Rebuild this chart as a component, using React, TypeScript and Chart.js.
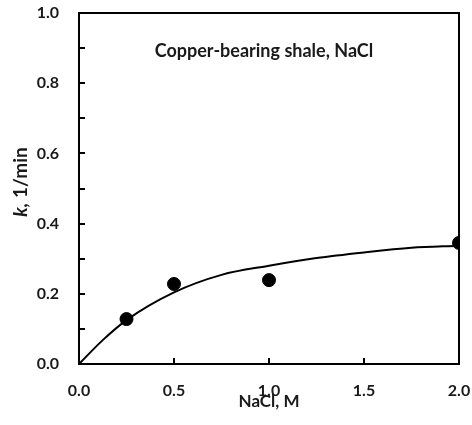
import React, { useEffect, useRef } from "react";
import { Chart, registerables } from "chart.js";

Chart.register(...registerables);

const pointX = [0.25, 0.5, 1.0, 2.0];
const pointK = [0.128, 0.228, 0.239, 0.345];

const curveX = [0, 0.125, 0.25, 0.5, 0.75, 1.0, 1.25, 1.5, 1.75, 2.0];
const curveK = [0, 0.068, 0.125, 0.204, 0.254, 0.28, 0.302, 0.318, 0.331, 0.337];

const xTicks = [0, 0.5, 1.0, 1.5, 2.0];
const yTicks = [0, 0.1, 0.2, 0.3, 0.4, 0.5, 0.6, 0.7, 0.8, 0.9, 1.0];

const chartTitle = "Copper-bearing shale, NaCl";
const xTitle = "NaCl, M";
const yTitleItalic = "k,";
const yTitleRest = " 1/min";

const FONT = "Lato, 'Open Sans', sans-serif";

const framePlugin = {
  id: "frame",
  afterDatasetsDraw(chart: any) {
    const { ctx, chartArea, scales } = chart;
    const { left, right, top, bottom } = chartArea;
    ctx.save();
    ctx.strokeStyle = "#000";
    ctx.lineWidth = 2;
    ctx.strokeRect(left, top, right - left, bottom - top);
    ctx.beginPath();
    yTicks.forEach((v) => {
      const y = Math.round(scales.y.getPixelForValue(v));
      ctx.moveTo(left, y);
      ctx.lineTo(left + 6, y);
    });
    xTicks.forEach((v) => {
      const x = Math.round(scales.x.getPixelForValue(v));
      ctx.moveTo(x, bottom);
      ctx.lineTo(x, bottom - 6);
    });
    ctx.stroke();

    // chart title inside plot
    ctx.fillStyle = "#1a1a1a";
    ctx.font = `bold 18px ${FONT}`;
    ctx.textAlign = "center";
    ctx.textBaseline = "alphabetic";
    ctx.fillText(chartTitle, 264, 57);

    // y axis title (rotated, k italic)
    ctx.translate(21, 182);
    ctx.rotate(-Math.PI / 2);
    const f1 = `italic bold 19px ${FONT}`;
    const f2 = `bold 19px ${FONT}`;
    ctx.font = f1;
    const w1 = ctx.measureText(yTitleItalic).width;
    ctx.font = f2;
    const w2 = ctx.measureText(yTitleRest).width;
    const start = -(w1 + w2) / 2;
    ctx.textAlign = "left";
    ctx.textBaseline = "middle";
    ctx.font = f1;
    ctx.fillText(yTitleItalic, start, 0);
    ctx.font = f2;
    ctx.fillText(yTitleRest, start + w1, 0);
    ctx.restore();
  },
};

export default function App() {
  const ref = useRef<HTMLCanvasElement | null>(null);
  useEffect(() => {
    if (!ref.current) return;
    const chart = new Chart(ref.current, {
      type: "scatter",
      data: {
        datasets: [
          {
            data: pointX.map((x, i) => ({ x, y: pointK[i] })),
            backgroundColor: "#000",
            borderColor: "#000",
            pointRadius: 6.5,
            pointHoverRadius: 6.5,
            showLine: false,
            order: 1,
          },
          {
            data: curveX.map((x, i) => ({ x, y: curveK[i] })),
            showLine: true,
            borderColor: "#000",
            borderWidth: 2,
            pointRadius: 0,
            cubicInterpolationMode: "monotone",
            order: 2,
          } as any,
        ],
      },
      options: {
        responsive: false,
        animation: false,
        devicePixelRatio: 1,
        layout: { padding: { top: 13, right: 13, left: 0, bottom: 0 } },
        plugins: { legend: { display: false }, tooltip: { enabled: false }, title: { display: false } },
        scales: {
          x: {
            type: "linear",
            min: 0,
            max: 2,
            afterBuildTicks: (s: any) => {
              s.ticks = xTicks.map((v) => ({ value: v }));
            },
            afterFit: (s: any) => {
              s.height = 61;
              s.paddingLeft = 0;
              s.paddingRight = 0;
            },
            grid: { display: false, drawTicks: false },
            border: { display: false },
            ticks: {
              padding: 17,
              color: "#1a1a1a",
              font: { family: FONT, size: 16, weight: "bold" },
              callback: (v: any) => Number(v).toFixed(1),
              maxRotation: 0,
            },
            title: {
              display: true,
              text: xTitle,
              color: "#1a1a1a",
              font: { family: FONT, size: 17, weight: "bold" },
              padding: { top: 0, bottom: 13 },
            },
          },
          y: {
            type: "linear",
            min: 0,
            max: 1,
            afterBuildTicks: (s: any) => {
              s.ticks = yTicks.map((v) => ({ value: v }));
            },
            afterFit: (s: any) => {
              s.width = 79;
              s.paddingTop = 0;
              s.paddingBottom = 0;
            },
            grid: { display: false, drawTicks: false },
            border: { display: false },
            ticks: {
              padding: 20,
              color: "#1a1a1a",
              font: { family: FONT, size: 16, weight: "bold" },
              callback: (v: any, i: number) => (i % 2 === 0 ? Number(v).toFixed(1) : ""),
            },
          },
        },
      },
      plugins: [framePlugin],
    });
    return () => chart.destroy();
  }, []);
  return (
    <canvas
      ref={ref}
      width={472}
      height={425}
      style={{ position: "absolute", left: 0, top: 0, width: 472, height: 425 }}
    />
  );
}
